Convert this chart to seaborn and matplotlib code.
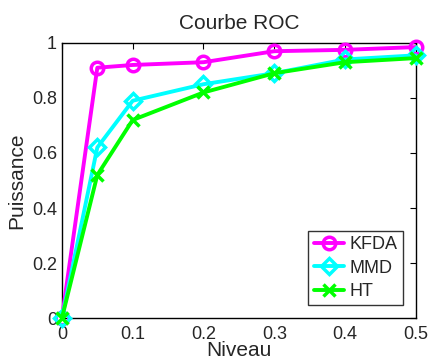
import pandas as pd
import matplotlib
matplotlib.use('Agg')
import matplotlib.pyplot as plt
import seaborn as sns

# Data
niveau = [0, 0.05, 0.1, 0.2, 0.3, 0.4, 0.5]
kfda = [0, 0.91, 0.92, 0.93, 0.97, 0.975, 0.985]
mmd = [0, 0.62, 0.79, 0.85, 0.89, 0.94, 0.955]
ht = [0, 0.52, 0.72, 0.82, 0.89, 0.93, 0.945]
methods = ['KFDA', 'MMD', 'HT']
colors = ['#ff00ff', '#00ffff', '#00ff00']
markers = ['o', 'D', 'x']

df = pd.DataFrame({'Niveau': niveau, 'KFDA': kfda, 'MMD': mmd, 'HT': ht})
long = df.melt(id_vars='Niveau', var_name='method', value_name='Puissance')

sns.set_style('white')
plt.rcParams['font.family'] = ['Liberation Sans', 'DejaVu Sans']

fig = plt.figure(figsize=(4.3, 3.61), dpi=100)
ax = fig.add_axes([0.144, 0.119, 0.823, 0.762])

for m, c, mk in zip(methods, colors, markers):
    sub = long[long['method'] == m]
    sns.lineplot(data=sub, x='Niveau', y='Puissance', ax=ax, color=c, lw=2.8,
                 marker=mk, markersize=9 if mk == 'o' else 8,
                 markerfacecolor='none', markeredgecolor=c, markeredgewidth=2.5,
                 label=m, clip_on=False, zorder=3)

ax.set_xlim(0, 0.5)
ax.set_ylim(0, 1)
ax.set_xticks([0, 0.1, 0.2, 0.3, 0.4, 0.5])
ax.set_xticklabels(['0', '0.1', '0.2', '0.3', '0.4', '0.5'])
ax.set_yticks([0, 0.2, 0.4, 0.6, 0.8, 1])
ax.set_yticklabels(['0', '0.2', '0.4', '0.6', '0.8', '1'])
ax.tick_params(direction='in', length=4, labelsize=13, top=True, right=True,
               color='black', width=0.8)
ax.tick_params(axis='x', pad=6)
for s in ax.spines.values():
    s.set_color('black')
    s.set_linewidth(1)
ax.set_xlabel('Niveau', fontsize=15, labelpad=-2)
ax.set_ylabel('Puissance', fontsize=15, labelpad=4)
ax.set_title('Courbe ROC', fontsize=15, pad=10)

leg = ax.legend(loc='lower right', fontsize=13, frameon=True, fancybox=False,
                edgecolor='black', handlelength=1.7, borderpad=0.3,
                labelspacing=0.35, handletextpad=0.3, borderaxespad=0.7)
leg.get_frame().set_linewidth(1)

fig.savefig('out.png', dpi=100)
